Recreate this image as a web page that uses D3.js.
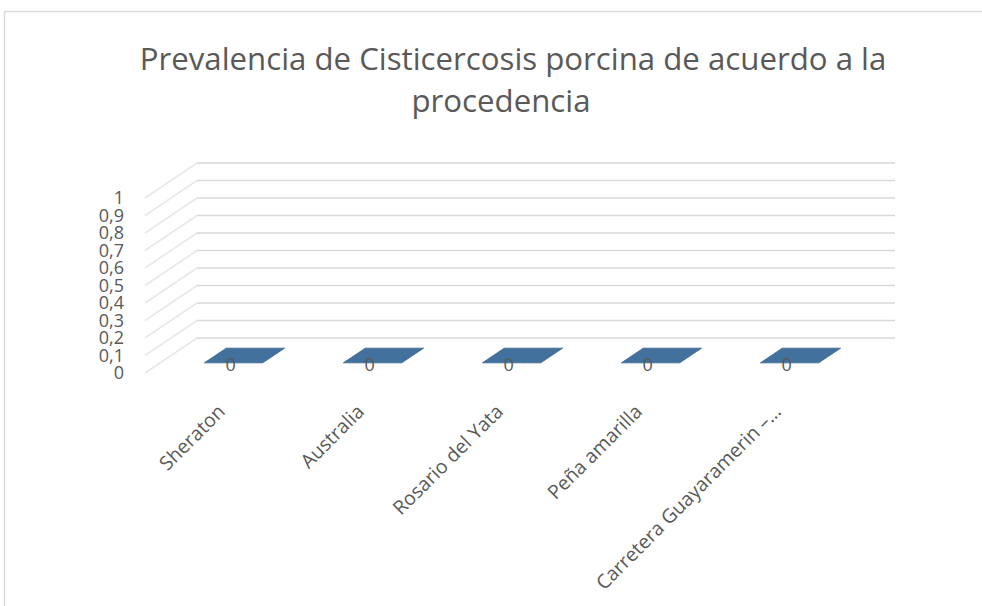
<!DOCTYPE html>
<html>
<head>
<meta charset="utf-8">
<script src="https://cdn.jsdelivr.net/npm/d3@7"></script>
<style>
  body { margin: 0; background: #fff; }
  text { font-family: "Open Sans", "Noto Sans", sans-serif; fill: #595959; }
</style>
</head>
<body>
<div id="chart-container"></div>
<script>
// chart data
const categories = ["Sheraton", "Australia", "Rosario del Yata", "Peña amarilla", "Carretera Guayaramerin –…"];
const values = [0, 0, 0, 0, 0];
const yTicks = [0, 0.1, 0.2, 0.3, 0.4, 0.5, 0.6, 0.7, 0.8, 0.9, 1];
const yTickLabels = ["0", "0,1", "0,2", "0,3", "0,4", "0,5", "0,6", "0,7", "0,8", "0,9", "1"];
const titleLines = ["Prevalencia de Cisticercosis porcina de acuerdo a la", "procedencia"];

const width = 982, height = 606;

const svg = d3.select('#chart-container')
    .append('svg')
    .attr('width', width)
    .attr('height', height);

// chart area border
svg.append('rect')
    .attr('x', 4.5).attr('y', 11.5)
    .attr('width', 1000).attr('height', 700)
    .attr('fill', '#fff')
    .attr('stroke', '#d9d9d9')
    .attr('stroke-width', 1.5);

// front plane scales, depth goes up and right
const DX = 52, DY = 35;
const wallLeft = 145, wallRight = 843;
const y = d3.scaleLinear().domain([0, 1]).range([373, 198]);
const x = d3.scaleBand().domain(categories).range([149, 844]);

const project = (px, v, depth) => [px + depth * DX, y(v) - depth * DY];

// gridlines: side (diagonal) + back wall
const grid = svg.append('g')
    .attr('stroke', '#d9d9d9')
    .attr('stroke-width', 1.6)
    .attr('fill', 'none');

grid.selectAll('.side')
    .data(yTicks)
    .enter()
    .append('line')
    .attr('x1', d => project(wallLeft, d, 0)[0])
    .attr('y1', d => project(wallLeft, d, 0)[1])
    .attr('x2', d => project(wallLeft, d, 1)[0])
    .attr('y2', d => project(wallLeft, d, 1)[1])
    .attr('stroke-opacity', 0.6);

grid.selectAll('.back')
    .data(yTicks)
    .enter()
    .append('line')
    .attr('x1', d => project(wallLeft, d, 1)[0])
    .attr('y1', d => project(wallLeft, d, 1)[1])
    .attr('x2', d => project(wallRight, d, 1)[0])
    .attr('y2', d => project(wallRight, d, 1)[1]);

// y axis labels
svg.append('g')
    .selectAll('text')
    .data(yTicks)
    .enter()
    .append('text')
    .attr('x', 124)
    .attr('y', d => y(d))
    .attr('dy', '0.35em')
    .attr('text-anchor', 'end')
    .attr('font-size', 18)
    .text((d, i) => yTickLabels[i]);

// bars (flat, value 0) drawn as top faces
const d0 = 0.29, d1 = 0.71;
const barW = x.bandwidth() * 0.42;
const barData = categories.map((c, i) => ({ cat: c, value: values[i] }));

svg.append('g')
    .selectAll('path')
    .data(barData)
    .enter()
    .append('path')
    .attr('fill', '#41719c')
    .attr('stroke', '#3a6690')
    .attr('stroke-width', 0.8)
    .attr('d', d => {
        const cx = x(d.cat) + x.bandwidth() / 2;
        const pts = [
            project(cx - barW / 2, d.value, d0),
            project(cx + barW / 2, d.value, d0),
            project(cx + barW / 2, d.value, d1),
            project(cx - barW / 2, d.value, d1)
        ];
        return d3.line()(pts) + 'Z';
    });

// data labels
svg.append('g')
    .selectAll('text')
    .data(barData)
    .enter()
    .append('text')
    .attr('x', d => project(x(d.cat) + x.bandwidth() / 2, d.value, d0)[0] - 3)
    .attr('y', d => project(x(d.cat) + x.bandwidth() / 2, d.value, d0)[1] + 2)
    .attr('dy', '0.35em')
    .attr('text-anchor', 'middle')
    .attr('font-size', 18)
    .text(d => String(d.value));

// category labels, rotated -45
svg.append('g')
    .selectAll('text')
    .data(categories)
    .enter()
    .append('text')
    .attr('text-anchor', 'end')
    .attr('font-size', 19.5)
    .attr('dy', '0.35em')
    .attr('transform', d => `translate(${x(d) + x.bandwidth() / 2 + 3},${408}) rotate(-45)`)
    .text(d => d);

// title, sized to the width of the first line
const title = svg.append('g');
const t1 = title.append('text')
    .attr('x', 513).attr('y', 70)
    .attr('text-anchor', 'middle')
    .attr('font-size', 30)
    .text(titleLines[0]);
const fs = 30 * 747 / t1.node().getComputedTextLength();
t1.attr('font-size', fs);
title.append('text')
    .attr('x', 501).attr('y', 112)
    .attr('text-anchor', 'middle')
    .attr('font-size', fs)
    .text(titleLines[1]);
</script>
</body>
</html>
